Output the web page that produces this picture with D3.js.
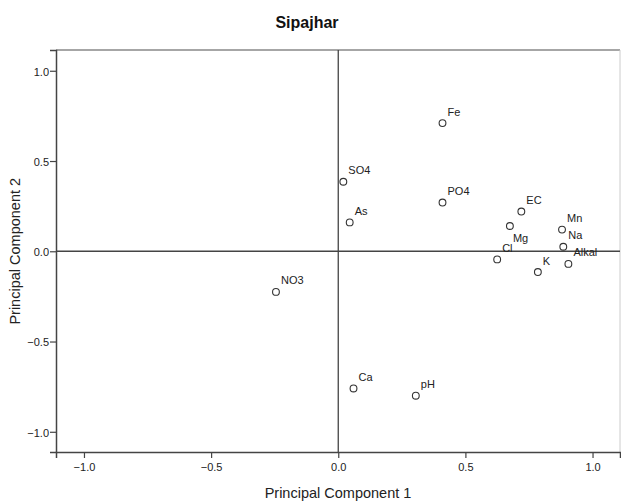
<!DOCTYPE html>
<html lang="en">
<head>
    <meta charset="UTF-8">
    <title>Sipajhar</title>
    <script src="https://d3js.org/d3.v7.min.js"></script>
    <style>
        body {
            margin: 0;
            background-color: #fff;
            font-family: Arial, "Liberation Sans", sans-serif;
        }
        .tick text {
            font-size: 11px;
            fill: #222;
        }
        .point {
            fill: none;
            stroke: #333;
            stroke-width: 1.1px;
        }
        .point-label {
            font-size: 11px;
            fill: #222;
        }
    </style>
</head>
<body>
    <svg id="chart" width="621" height="502"></svg>
    <script>
        // component loadings
        const variables = ["Fe", "SO4", "PO4", "As", "EC", "Mg", "Mn", "Na", "Cl", "Alkal", "K", "NO3", "Ca", "pH"];
        const pc1 = [0.41, 0.02, 0.41, 0.045, 0.72, 0.675, 0.88, 0.885, 0.625, 0.905, 0.785, -0.245, 0.06, 0.305];
        const pc2 = [0.71, 0.385, 0.27, 0.16, 0.22, 0.14, 0.12, 0.025, -0.045, -0.07, -0.115, -0.225, -0.76, -0.80];
        const tickValues = [-1.0, -0.5, 0.0, 0.5, 1.0];

        const width = 621;
        const height = 502;
        const margin = { top: 50, right: 1, bottom: 50, left: 56 };

        const svg = d3.select("#chart");

        const x = d3.scaleLinear()
            .domain([-1.11, 1.108])
            .range([margin.left, width - margin.right]);

        const y = d3.scaleLinear()
            .domain([-1.112, 1.115])
            .range([height - margin.bottom, margin.top]);

        // frame (top and right are lighter)
        svg.append("line")
            .attr("x1", margin.left).attr("x2", width - margin.right)
            .attr("y1", margin.top).attr("y2", margin.top)
            .attr("stroke", "#888").attr("stroke-width", 1.5);
        svg.append("line")
            .attr("x1", width - margin.right).attr("x2", width - margin.right)
            .attr("y1", margin.top).attr("y2", height - margin.bottom)
            .attr("stroke", "#ccc").attr("stroke-width", 1);

        // axes
        const xAxis = svg.append("g")
            .attr("transform", `translate(0,${height - margin.bottom})`)
            .call(d3.axisBottom(x).tickValues(tickValues).tickFormat(d3.format(".1f")).tickSize(6).tickPadding(5));

        const yAxis = svg.append("g")
            .attr("transform", `translate(${margin.left},0)`)
            .call(d3.axisLeft(y).tickValues(tickValues).tickFormat(d3.format(".1f")).tickSize(6).tickPadding(1));

        [xAxis, yAxis].forEach(g => {
            g.select(".domain").attr("stroke", "#444").attr("stroke-width", 1.5);
            g.selectAll(".tick line").attr("stroke", "#444").attr("stroke-width", 1.2);
            g.selectAll(".tick text").attr("font-family", "Arial, 'Liberation Sans', sans-serif");
        });
        yAxis.selectAll(".tick text").attr("dy", "0.4em");

        // reference lines through zero
        svg.append("line")
            .attr("x1", x(0)).attr("x2", x(0))
            .attr("y1", margin.top).attr("y2", height - margin.bottom)
            .attr("stroke", "#444").attr("stroke-width", 1.3);
        svg.append("line")
            .attr("x1", margin.left).attr("x2", width - margin.right)
            .attr("y1", y(0)).attr("y2", y(0))
            .attr("stroke", "#444").attr("stroke-width", 1.3);

        const points = variables.map((v, i) => ({ name: v, pc1: pc1[i], pc2: pc2[i] }));

        svg.selectAll(".point")
            .data(points)
            .enter()
            .append("circle")
            .attr("class", "point")
            .attr("cx", d => x(d.pc1))
            .attr("cy", d => y(d.pc2))
            .attr("r", 3.4);

        // labels sit up and to the right, except Mg which goes below
        svg.selectAll(".point-label")
            .data(points)
            .enter()
            .append("text")
            .attr("class", "point-label")
            .attr("x", d => x(d.pc1) + (d.name === "Mg" ? 3 : 5))
            .attr("y", d => y(d.pc2) + (d.name === "Mg" ? 16 : -7.5))
            .text(d => d.name);

        // titles
        svg.append("text")
            .attr("x", 307)
            .attr("y", 28)
            .attr("text-anchor", "middle")
            .attr("font-size", "16px")
            .attr("font-weight", "bold")
            .attr("fill", "#111")
            .text("Sipajhar");

        svg.append("text")
            .attr("x", (margin.left + width - margin.right) / 2)
            .attr("y", 498)
            .attr("text-anchor", "middle")
            .attr("font-size", "14.5px")
            .attr("fill", "#222")
            .text("Principal Component 1");

        svg.append("text")
            .attr("transform", `translate(20,${y(0)}) rotate(-90)`)
            .attr("text-anchor", "middle")
            .attr("font-size", "14.5px")
            .attr("fill", "#222")
            .text("Principal Component 2");
    </script>
</body>
</html>
